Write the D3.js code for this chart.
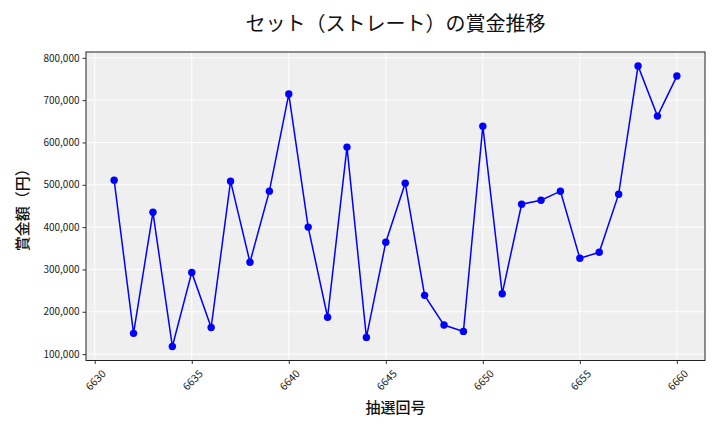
<!DOCTYPE html>
<html><head><meta charset="utf-8">
<script src="https://cdn.jsdelivr.net/npm/d3@7"></script>
<style>body{margin:0;background:#fff}svg{display:block}</style>
</head><body>
<svg id="chart" width="720" height="432"></svg>
<script>
const draws = [6631,6632,6633,6634,6635,6636,6637,6638,6639,6640,6641,6642,6643,6644,6645,6646,6647,6648,6649,6650,6651,6652,6653,6654,6655,6656,6657,6658,6659,6660];
const prizes = [511000,149000,435000,118000,293000,163000,508500,317000,485000,714400,400000,187000,589000,139400,364200,503800,238800,168600,153600,638600,242700,454100,463600,484900,326300,340500,477800,780600,662300,756900];
const xTicks = [6630,6635,6640,6645,6650,6655,6660];
const yTicks = [100000,200000,300000,400000,500000,600000,700000,800000];
const title = "セット（ストレート）の賞金推移";
const xLabel = "抽選回号";
const yLabel = "賞金額（円）";

const svg = d3.select("#chart");
const L = 86, T = 52, R = 705, B = 360.5;
const font = "'Noto Sans CJK JP', 'Noto Sans', sans-serif";

const xMin = d3.min(draws), xMax = d3.max(draws);
const xPad = (xMax - xMin) * 0.05;
const x = d3.scaleLinear().domain([xMin - xPad, xMax + xPad]).range([L, R]);
const yMin = d3.min(prizes), yMax = d3.max(prizes);
const yPad = (yMax - yMin) * 0.05;
const y = d3.scaleLinear().domain([yMin - yPad, yMax + yPad]).range([B, T]);

svg.append("rect").attr("x", L).attr("y", T).attr("width", R - L).attr("height", B - T).attr("fill", "#efefef");

// grid
svg.append("g").selectAll("line").data(xTicks).join("line")
  .attr("x1", d => x(d)).attr("x2", d => x(d)).attr("y1", T).attr("y2", B)
  .attr("stroke", "#fff").attr("stroke-width", 1);
svg.append("g").selectAll("line").data(yTicks).join("line")
  .attr("x1", L).attr("x2", R).attr("y1", d => y(d)).attr("y2", d => y(d))
  .attr("stroke", "#fff").attr("stroke-width", 1);

// axes
const xAxis = d3.axisBottom(x).tickValues(xTicks).tickSize(3.5).tickPadding(3).tickFormat(d3.format("d"));
const gx = svg.append("g").attr("transform", `translate(0,${B})`).call(xAxis);
gx.select(".domain").remove();
gx.selectAll("line").attr("stroke", "#333");
gx.selectAll("text").attr("font-family", font).attr("font-size", 10.5).attr("fill", "#222")
  .attr("text-anchor", "middle").attr("dy", null).attr("y", null)
  .attr("transform", "translate(0,19) rotate(-45)").attr("dominant-baseline", "central");

const yAxis = d3.axisLeft(y).tickValues(yTicks).tickSize(3.5).tickPadding(3).tickFormat(d3.format(","));
const gy = svg.append("g").attr("transform", `translate(${L},0)`).call(yAxis);
gy.select(".domain").remove();
gy.selectAll("line").attr("stroke", "#333");
gy.selectAll("text").attr("font-family", font).attr("font-size", 10).attr("fill", "#222");

svg.append("rect").attr("x", L).attr("y", T).attr("width", R - L).attr("height", B - T)
  .attr("fill", "none").attr("stroke", "#222").attr("stroke-width", 1);

// line
const line = d3.line().x((d, i) => x(draws[i])).y(d => y(d));
svg.append("path").datum(prizes).attr("d", line).attr("fill", "none")
  .attr("stroke", "#0000ff").attr("stroke-width", 1.5);
svg.append("g").selectAll("circle").data(prizes).join("circle")
  .attr("cx", (d, i) => x(draws[i])).attr("cy", d => y(d)).attr("r", 3.7).attr("fill", "#0000ff");

// labels
svg.append("text").attr("x", (L + R) / 2).attr("y", 31).attr("text-anchor", "middle")
  .attr("font-family", font).attr("font-size", 20).attr("font-weight", 400).attr("fill", "#111").text(title);
svg.append("text").attr("x", (L + R) / 2).attr("y", 413).attr("text-anchor", "middle")
  .attr("font-family", font).attr("font-size", 15).attr("font-weight", 500).attr("fill", "#111").text(xLabel);
svg.append("text").attr("transform", `translate(28,${(T + B) / 2}) rotate(-90)`).attr("text-anchor", "middle")
  .attr("font-family", font).attr("font-size", 15).attr("font-weight", 500).attr("fill", "#111").text(yLabel);
</script>
</body></html>
